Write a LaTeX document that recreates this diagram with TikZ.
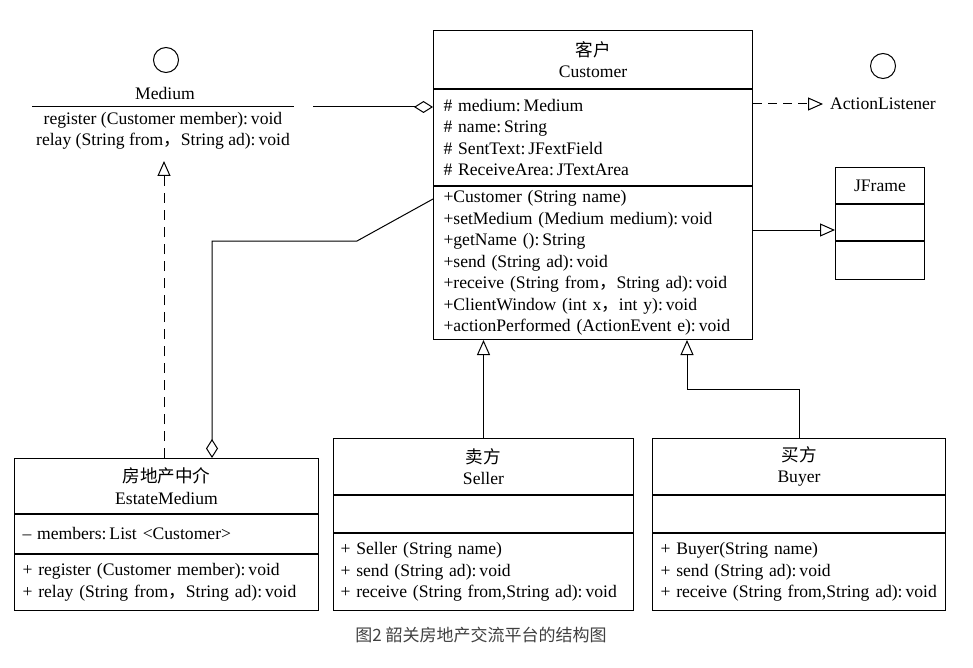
\documentclass[tikz,border=0pt]{standalone}
\usepackage{fontspec}
\setmainfont{Liberation Serif}
\newfontfamily\cjk{Noto Sans CJK SC}
\usetikzlibrary{arrows.meta, positioning}

\tikzset{
  part/.style={draw, line width=1pt, anchor=north west, inner ysep=0pt, inner xsep=8pt, font=\fontsize{17.6}{21.5}\selectfont},
  head/.style={part, align=center},
  body/.style={part, align=left},
  gen/.style={line width=1pt, -{Triangle[open, length=15pt, width=13pt]}},
  real/.style={gen, dash pattern=on 9pt off 6pt},
  agg/.style={line width=1pt, -{Diamond[open, length=19pt, width=12pt]}},
}

\begin{document}
\begin{tikzpicture}[x=1pt, y=-1pt]
				\useasboundingbox (0,0) rectangle (973,668);
				
				% Interface Medium
				\draw[line width=1pt] (166,60) circle (12.5pt);
				\node[font=\fontsize{17.6}{21}\selectfont] (medName) at (165,93) {Medium};
				\coordinate (medL) at (32,107);
				\coordinate (medR) at (294,107);
				\draw[line width=1pt] (medL) -- (medR);
				\node[font=\fontsize{17.6}{21}\selectfont, align=center, inner sep=0pt] (medOps) at (163,131) {register (Customer member):\,void\\relay (String from{\cjk ，}String ad):\,void};
				
				% Class Customer
				\node[head, minimum width=319pt, minimum height=58pt] (custH) at (433,30) {{\cjk 客户}\\Customer};
				\node[body, text width=299pt, inner xsep=10pt, minimum height=96pt] (custA) at (custH.south west) {\# medium:\,Medium\\\# name:\,String\\\# SentText:\,JFextField\\\# ReceiveArea:\,JTextArea};
				\node[body, text width=299pt, inner xsep=10pt, minimum height=153pt] (custM) at (custA.south west) {+Customer (String name)\\+setMedium (Medium medium):\,void\\+getName ():\,String\\+send (String ad):\,void\\+receive (String from{\cjk ，}String ad):\,void\\+ClientWindow (int x{\cjk ，}int y):\,void\\+actionPerformed (ActionEvent e):\,void};
				
				% Interface ActionListener
				\draw[line width=1pt] (883,66) circle (12.5pt);
				\node[anchor=west, inner xsep=7pt, inner ysep=0pt, font=\fontsize{17.6}{21}\selectfont] (alName) at (823,104) {ActionListener};
				
				% Class JFrame
				\node[head, minimum width=89pt, minimum height=36pt] (jfH) at (835,167) {JFrame};
				\node[part, minimum width=89pt, minimum height=36pt] (jfA) at (jfH.south west) {};
				\node[part, minimum width=89pt, minimum height=38pt] (jfM) at (jfA.south west) {};
				
				% Class EstateMedium
				\node[head, minimum width=304pt, minimum height=55pt] (estH) at (14,458) {{\cjk 房地产中介}\\EstateMedium};
				\node[body, text width=288pt, minimum height=39pt] (estA) at (estH.south west) {-- members:\,List <Customer>};
				\node[body, text width=288pt, minimum height=56pt] (estM) at (estA.south west) {+ register (Customer member):\,void\\+ relay (String from{\cjk ，}String ad):\,void};
				
				% Class Seller
				\node[head, minimum width=300pt, minimum height=56pt] (sellH) at (333,438) {{\cjk 卖方}\\Seller};
				\node[part, minimum width=300pt, minimum height=37pt] (sellA) at (sellH.south west) {};
				\node[body, text width=286pt, inner xsep=7pt, minimum height=77pt] (sellM) at (sellA.south west) {+ Seller (String name)\\+ send (String ad):\,void\\+ receive (String from,String ad):\,void};
				
				% Class Buyer
				\node[head, minimum width=293pt, minimum height=56pt] (buyH) at (652,438) {{\cjk 买方}\\Buyer};
				\node[part, minimum width=293pt, minimum height=37pt] (buyA) at (buyH.south west) {};
				\node[body, text width=277pt, minimum height=77pt] (buyM) at (buyA.south west) {+ Buyer(String name)\\+ send (String ad):\,void\\+ receive (String from,String ad):\,void};
				
				% Relations
				\coordinate (medAgg) at (313,107);
				\draw[agg] (medAgg) -- (medAgg -| custA.west);
				\draw[real] (custA.east |- alName) -- (alName.west);
				\coordinate (jfIn) at (835,230);
				\draw[gen] (jfIn -| custM.east) -- (jfIn);
				\coordinate (medTip) at (164,161);
				\draw[real, dash pattern=on 10pt off 7pt] (estH.north -| medTip) -- (medTip);
				\coordinate (bend) at (357,241);
				\coordinate (estJoin) at (212,241);
				\draw[agg] (custM.north west) ++(0,13) -- (bend) -- (estJoin) -- (estJoin |- estH.north);
				\draw[gen] (sellH.north) -- (sellH.north |- custM.south);
				\coordinate (buyUp) at (687,389);
				\draw[gen] (buyH.north) -- (buyH.north |- buyUp) -- (buyUp) -- (buyUp |- custM.south);
				
				% Caption
				\node[font=\cjk\fontsize{17}{19}\selectfont, text=black!75] (cap) at (481,635) {图2 韶关房地产交流平台的结构图};
\end{tikzpicture}
\end{document}
